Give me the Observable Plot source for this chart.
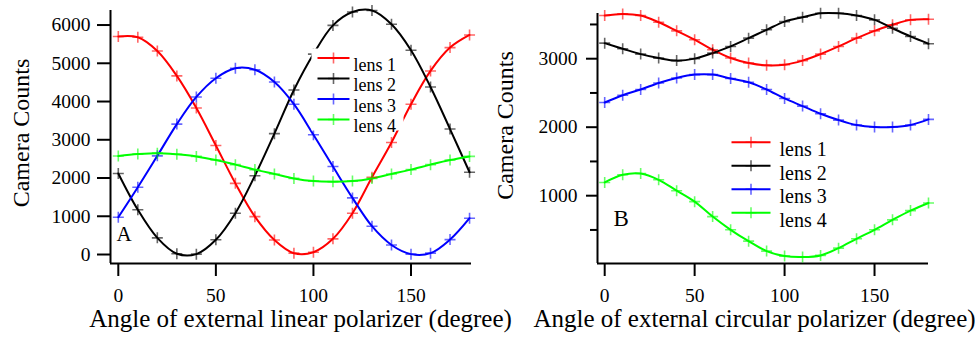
<!DOCTYPE html>
<html><head><meta charset="utf-8">
<script src="https://cdn.jsdelivr.net/npm/d3@7"></script>
<script src="https://cdn.jsdelivr.net/npm/@observablehq/plot@0.6"></script>
<style>
body{margin:0;background:#fff;color:#000}
#wrap{display:flex;width:975px;height:343px;overflow:hidden}
#wrap svg{flex:none}
#wrap svg text{font-family:"Liberation Serif","Times New Roman",serif}
</style>
</head><body><div id="wrap"></div>
<script>
// ---- data ----
const angles = [0,10,20,30,40,50,60,70,80,90,100,110,120,130,140,150,160,170,180];
const lensNames = ["lens 1","lens 2","lens 3","lens 4"];
const lensColors = ["#ff0000","#000000","#0000ff","#00ff00"];

// Panel A: linear polarizer
const lens1A = [5700,5680,5320,4670,3830,2850,1860,990,380,35,60,410,1080,2020,2930,3930,4800,5410,5740];
const lens2A = [2120,1170,435,20,10,385,1080,2060,3160,4300,5240,5990,6340,6380,6020,5340,4380,3280,2150];
const lens3A = [975,1760,2580,3410,4120,4610,4870,4830,4510,3930,3130,2300,1480,740,250,10,35,390,950];
const lens4A = [2575,2625,2650,2620,2565,2470,2350,2220,2105,1990,1920,1905,1920,1990,2105,2220,2350,2470,2565];

// Panel B: circular polarizer
const lens1B = [3630,3654,3630,3532,3407,3277,3131,3010,2937,2903,2913,2972,3067,3179,3300,3407,3495,3567,3576];
const lens2B = [3227,3146,3067,3009,2972,3001,3082,3179,3300,3422,3542,3606,3663,3663,3630,3567,3445,3325,3218];
const lens3B = [2360,2467,2550,2646,2719,2768,2768,2710,2656,2550,2420,2308,2196,2104,2032,2002,2002,2032,2114];
const lens4B = [1193,1305,1324,1232,1073,913,695,502,336,191,118,104,128,234,371,502,647,782,894];

const xTicks = [0,50,100,150];
const yTicksA = [0,1000,2000,3000,4000,5000,6000];
const yTicksB = [1000,2000,3000];
const yMinorB = [500,1500,2500,3500];
const panelLetters = ["A","B"];
const xTitleA = "Angle of external linear polarizer (degree)";
const xTitleB = "Angle of external circular polarizer (degree)";
const yTitle = "Camera Counts";

// ---- helpers ----
const FONT = "Liberation Serif";
const plusSym = {draw(ctx, size){const r = Math.sqrt(size/Math.PI); ctx.moveTo(-r,0); ctx.lineTo(r,0); ctx.moveTo(0,-r); ctx.lineTo(0,r);}};
const hlineSym = half => ({draw(ctx){ctx.moveTo(-half,0); ctx.lineTo(half,0);}});
const rectSym = (w,h) => ({draw(ctx){ctx.rect(0,0,w,h);}});
const plain = d => String(d);

function table(series){
  const rows = [];
  series.forEach((vals, i) => vals.forEach((v, j) => rows.push({angle: angles[j], lens: lensNames[i], value: v})));
  return rows;
}

function panel(c){
  const data = table(c.series);
  const marks = [
    Plot.ruleX([c.xDomain[0]], {stroke:"#000", strokeWidth:2}),
    Plot.ruleY([c.yDomain[0]], {stroke:"#000", strokeWidth:2}),
    Plot.axisX({ticks: xTicks, tickSize: 13, tickPadding: 12, tickFormat: plain, fontSize: 19.5, fontFamily: FONT, strokeWidth: 2, label: null}),
    Plot.axisY({ticks: c.yTicks, tickSize: c.yTickSize, tickPadding: c.yTickPad, tickFormat: plain, fontSize: 19.5, fontFamily: FONT, strokeWidth: 2, label: null})
  ];
  if (c.yMinor) marks.push(Plot.axisY({ticks: c.yMinor, tickSize: 7, tickFormat: () => "", strokeWidth: 2, label: null}));
  marks.push(
    Plot.line(data, {x:"angle", y:"value", z:"lens", stroke:"lens", strokeWidth:2, curve:"catmull-rom"}),
    Plot.dot(data, {x:"angle", y:"value", stroke:"lens", fill:"none", symbol: plusSym, r:5.5, strokeWidth:1.6, strokeOpacity:0.6})
  );
  if (c.legendBox) marks.push(Plot.dot([0], {frameAnchor:"top-left", dx:c.legendBox[0], dy:c.legendBox[1], symbol: rectSym(c.legendBox[2], c.legendBox[3]), fill:"#fff", stroke:"none", r:1}));
  lensNames.forEach((name, i) => {
    const dy = c.legend.dy + i*c.legend.step;
    marks.push(
      Plot.dot([name], {frameAnchor:"top-left", dx:c.legend.dx, dy, symbol: hlineSym(c.legend.half), stroke: lensColors[i], strokeWidth:2, fill:"none", r:1}),
      Plot.dot([name], {frameAnchor:"top-left", dx:c.legend.dx, dy, symbol: plusSym, r:5.5, stroke: lensColors[i], strokeWidth:1.6, strokeOpacity:0.6, fill:"none"}),
      Plot.text([name], {frameAnchor:"top-left", dx:c.legend.tx, dy, text: d => d, textAnchor:"start", fontSize:c.legend.fs, fontFamily: FONT, fill:"#000"})
    );
  });
  marks.push(
    Plot.text([c.letter], {frameAnchor:"bottom-left", dx:c.letterPos[0], dy:c.letterPos[1], text: d => d, textAnchor:"start", fontSize:c.letterFs, fontFamily: FONT, fill:"#000"}),
    Plot.text([yTitle], {frameAnchor:"left", dx:c.yTitleDx, dy:c.yTitleDy, rotate:-90, textAnchor:"middle", text: d => d, fontSize:24, fontFamily: FONT, fill:"#000"}),
    Plot.text([c.xTitle], {frameAnchor:"bottom", dx:c.xTitleDx, dy:63, textAnchor:"middle", text: d => d, fontSize:25, fontFamily: FONT, fill:"#000"})
  );
  return Plot.plot({
    width: c.width, height: 343,
    marginLeft: c.ml, marginRight: c.mr, marginTop: c.mt, marginBottom: 80,
    x: {domain: c.xDomain},
    y: {domain: c.yDomain},
    color: {domain: lensNames, range: lensColors},
    style: {fontFamily: FONT, fontSize: "19.5px", background: "none", color: "#000", overflow: "visible"},
    marks
  });
}

const wrap = document.getElementById("wrap");
wrap.append(panel({
  series: [lens1A, lens2A, lens3A, lens4A],
  width: 490, ml: 110, mr: 19, mt: 10,
  xDomain: [-4, 181], yDomain: [-235, 6380],
  yTicks: yTicksA, yTickSize: 13, yTickPad: 7,
  legend: {dx: 223, dy: 47.5, step: 20.5, half: 16, tx: 243, fs: 18},
  legendBox: [201, 38, 92, 82],
  letter: panelLetters[0], letterPos: [6, -23], letterFs: 21,
  yTitleDy: -4, yTitleDx: -89,
  xTitle: xTitleA, xTitleDx: 9.5
}));
wrap.append(panel({
  series: [lens1B, lens2B, lens3B, lens4B],
  width: 485, ml: 107, mr: 47, mt: 13,
  xDomain: [-4, 180], yDomain: [10, 3660],
  yTicks: yTicksB, yMinor: yMinorB, yTickSize: 11, yTickPad: 9,
  legend: {dx: 153.5, dy: 128.7, step: 23.5, half: 19.5, tx: 182, fs: 20},
  legendBox: null,
  letter: panelLetters[1], letterPos: [16, -38], letterFs: 23,
  yTitleDy: -13, yTitleDx: -92,
  xTitle: xTitleB, xTitleDx: -8.5
}));
</script>
</body></html>
